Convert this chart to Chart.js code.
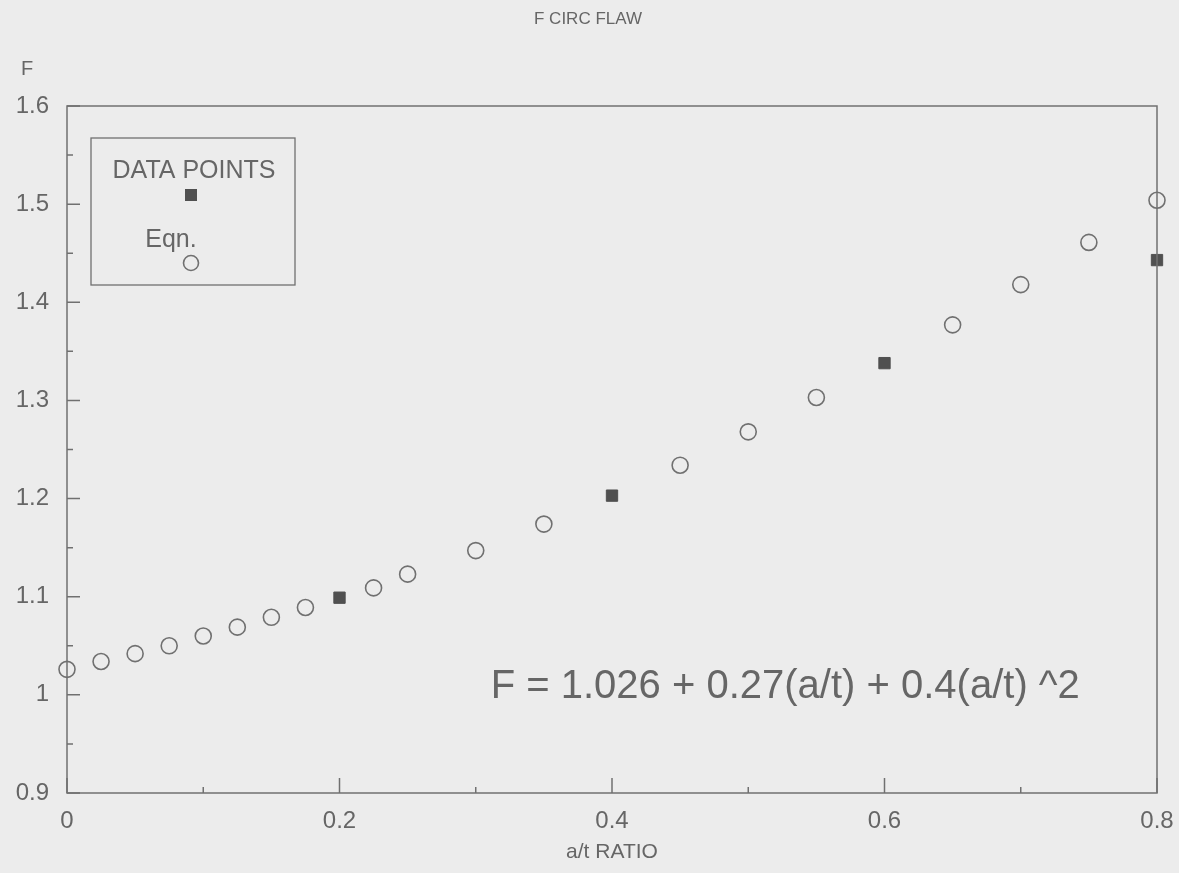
<!DOCTYPE html>
<html>
<head>
<meta charset="utf-8">
<script src="https://cdn.jsdelivr.net/npm/chart.js@4/dist/chart.umd.min.js"></script>
<style>
  html, body { margin: 0; padding: 0; background: #ececec; }
  #wrap { width: 1179px; height: 873px; }
</style>
</head>
<body>
<div id="wrap"><canvas id="flawChart" width="1179" height="873"></canvas></div>
<script>
// values
const eqnX = [0, 0.025, 0.05, 0.075, 0.1, 0.125, 0.15, 0.175, 0.225, 0.25, 0.3, 0.35, 0.45, 0.5, 0.55, 0.65, 0.7, 0.75, 0.8];
const eqnF = [1.026, 1.034, 1.042, 1.050, 1.060, 1.069, 1.079, 1.089, 1.109, 1.123, 1.147, 1.174, 1.234, 1.268, 1.303, 1.377, 1.418, 1.461, 1.504];
const dataX = [0.2, 0.4, 0.6, 0.8];
const dataF = [1.099, 1.203, 1.338, 1.443];
const xTicksMinor = [0.1, 0.3, 0.5, 0.7];
const yTicksMinor = [0.95, 1.05, 1.15, 1.25, 1.35, 1.45, 1.55];

const FONT = "'Liberation Sans', Arial, Helvetica, sans-serif";
const textColor = "#666666";
const lineColor = "#707070";

// frame, inward ticks, title, legend box and equation
const decorations = {
  id: "decorations",
  beforeDraw(chart) {
    const ctx = chart.ctx;
    ctx.save();
    ctx.fillStyle = "#ececec";
    ctx.fillRect(0, 0, chart.width, chart.height);
    ctx.restore();
  },
  afterDraw(chart) {
    const ctx = chart.ctx;
    const area = chart.chartArea;
    const xs = chart.scales.x;
    const ys = chart.scales.y;
    ctx.save();

    // plot frame
    ctx.strokeStyle = lineColor;
    ctx.lineWidth = 1.5;
    ctx.strokeRect(area.left, area.top, area.right - area.left, area.bottom - area.top);

    // inward ticks
    ctx.beginPath();
    ys.ticks.forEach((t) => {
      const y = ys.getPixelForValue(t.value);
      ctx.moveTo(area.left, y);
      ctx.lineTo(area.left + 13, y);
    });
    yTicksMinor.forEach((v) => {
      const y = ys.getPixelForValue(v);
      ctx.moveTo(area.left, y);
      ctx.lineTo(area.left + 6, y);
    });
    xs.ticks.forEach((t) => {
      const x = xs.getPixelForValue(t.value);
      ctx.moveTo(x, area.bottom);
      ctx.lineTo(x, area.bottom - 15);
    });
    xTicksMinor.forEach((v) => {
      const x = xs.getPixelForValue(v);
      ctx.moveTo(x, area.bottom);
      ctx.lineTo(x, area.bottom - 6);
    });
    ctx.stroke();

    // title and y label
    ctx.fillStyle = textColor;
    ctx.textAlign = "center";
    ctx.textBaseline = "middle";
    ctx.font = "17px " + FONT;
    ctx.fillText("F CIRC FLAW", 588, 19);
    ctx.font = "20px " + FONT;
    ctx.fillText("F", 27, 69);

    // legend box
    ctx.strokeStyle = lineColor;
    ctx.lineWidth = 1.3;
    ctx.strokeRect(91, 138, 204, 147);
    ctx.font = "25px " + FONT;
    ctx.fillText("DATA POINTS", 194, 171);
    ctx.fillText("Eqn.", 171, 240);
    ctx.fillStyle = "#505050";
    ctx.fillRect(185, 189, 12, 12);
    ctx.beginPath();
    ctx.strokeStyle = "#707070";
    ctx.lineWidth = 1.6;
    ctx.arc(191, 263, 7.5, 0, Math.PI * 2);
    ctx.stroke();

    // equation text anchored to the data scales
    ctx.fillStyle = textColor;
    ctx.textAlign = "left";
    ctx.font = "40px " + FONT;
    ctx.fillText("F = 1.026 + 0.27(a/t) + 0.4(a/t) ^2", xs.getPixelForValue(0.311), ys.getPixelForValue(1.008));
    ctx.restore();
  },
};

const chart = new Chart("flawChart", {
  type: "scatter",
  data: {
    datasets: [
      {
        label: "DATA POINTS",
        data: dataX.map((x, i) => ({ x: x, y: dataF[i] })),
        pointStyle: "rect",
        pointRadius: 8,
        pointBackgroundColor: "#505050",
        pointBorderColor: "#505050",
        pointBorderWidth: 1,
        clip: false,
      },
      {
        label: "Eqn.",
        data: eqnX.map((x, i) => ({ x: x, y: eqnF[i] })),
        pointStyle: "circle",
        pointRadius: 8,
        pointBackgroundColor: "rgba(0,0,0,0)",
        pointBorderColor: "#707070",
        pointBorderWidth: 1.6,
        clip: false,
      },
    ],
  },
  options: {
    responsive: false,
    animation: false,
    layout: { padding: { top: 106, right: 22, left: 0, bottom: 0 } },
    plugins: {
      legend: { display: false },
      tooltip: { enabled: false },
    },
    scales: {
      x: {
        type: "linear",
        min: 0,
        max: 0.8,
        grid: { display: false, drawTicks: false },
        border: { display: false },
        ticks: {
          stepSize: 0.2,
          padding: 14,
          color: textColor,
          font: { family: FONT, size: 24 },
          callback: (v) => String(+v.toFixed(2)),
        },
        title: {
          display: true,
          text: "a/t RATIO",
          color: textColor,
          font: { family: FONT, size: 21 },
          padding: { top: 0, bottom: 8 },
        },
        afterFit: (scale) => {
          scale.height = 80;
          scale.paddingLeft = 0;
          scale.paddingRight = 0;
        },
      },
      y: {
        type: "linear",
        min: 0.9,
        max: 1.6,
        grid: { display: false, drawTicks: false },
        border: { display: false },
        ticks: {
          stepSize: 0.1,
          padding: 18,
          color: textColor,
          font: { family: FONT, size: 24 },
          callback: (v) => String(+v.toFixed(2)),
        },
        afterFit: (scale) => {
          scale.width = 67;
          scale.paddingTop = 0;
          scale.paddingBottom = 0;
        },
      },
    },
  },
  plugins: [decorations],
});
</script>
</body>
</html>
